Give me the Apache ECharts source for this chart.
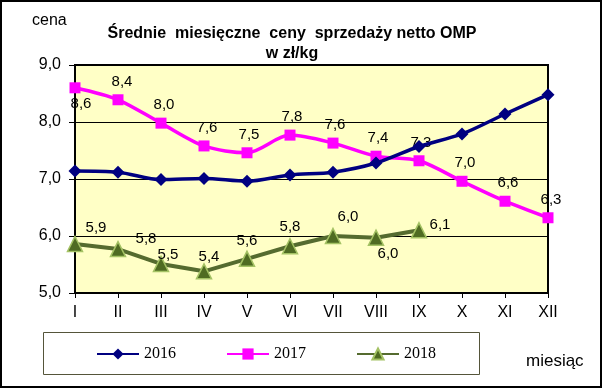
<!DOCTYPE html>
<html>
<head>
<meta charset="utf-8">
<script src="https://cdn.jsdelivr.net/npm/echarts@6/dist/echarts.min.js"></script>
<style>html,body{margin:0;padding:0;background:#fff}#c{width:602px;height:388px}</style>
</head>
<body>
<div id="c"></div>
<script>
const months = ['I','II','III','IV','V','VI','VII','VIII','IX','X','XI','XII'];
const y2016 = [7.14,7.12,6.99,7.01,6.96,7.07,7.12,7.28,7.57,7.79,8.14,8.48];
const y2017 = [8.6,8.39,7.98,7.58,7.46,7.77,7.63,7.40,7.32,6.96,6.61,6.32];
const y2018 = [5.86,5.77,5.51,5.38,5.6,5.82,6.0,5.97,6.1];
const seriesNames = ['2016','2017','2018'];
const yTicks = [5,6,7,8,9];

// label placement (style only)
const off2017 = [[6,16],[4,-18],[3,-18],[3,-18],[2,-18],[2,-18],[2,-18],[2,-18],[2,-18],[3,-18],[3,-18],[3,-18]];
const off2018 = [[21,-16],[28,-10],[7,-9],[5,-14],[0,-18],[0,-19],[15,-19],[12,16],[21,-5]];

const fmt = v => v.toFixed(1).replace('.', ',');
const font = 'Liberation Sans, Arial, sans-serif';

const chart = echarts.init(document.getElementById('c'), null, {renderer:'canvas'});
chart.setOption({
  animation:false,
  backgroundColor:'#fff',
  title:{
    text:'Średnie  miesięczne  ceny  sprzedaży netto OMP\nw zł/kg',
    left:287, top:19, textAlign:'center',
    textStyle:{fontFamily:font, fontWeight:'bold', fontSize:16, lineHeight:20, color:'#000'}
  },
  grid:{left:75, right:54, top:65, bottom:95, show:true, backgroundColor:'#FFFFC6', borderColor:'#000', borderWidth:2},
  legend:{
    data:seriesNames, left:96, top:346, itemWidth:42, itemHeight:14, itemGap:50, padding:0,
    textStyle:{fontFamily:'Liberation Serif, Times New Roman, serif', fontSize:16, color:'#000'}
  },
  xAxis:{
    type:'category', data:months, boundaryGap:false,
    axisLine:{lineStyle:{color:'#000', width:2}},
    axisTick:{show:true, length:5, lineStyle:{color:'#000'}},
    axisLabel:{fontFamily:font, fontSize:16, color:'#000', margin:12},
    splitLine:{show:false}
  },
  yAxis:{
    type:'value', min:yTicks[0], max:yTicks[yTicks.length-1], interval:1,
    axisLine:{show:true, lineStyle:{color:'#000', width:2}},
    axisTick:{show:true, length:6, lineStyle:{color:'#000'}},
    axisLabel:{fontFamily:font, fontSize:16, color:'#000', margin:14, formatter:fmt},
    splitLine:{show:true, lineStyle:{color:'#000', width:1}}
  },
  series:[
    {
      name:seriesNames[0], type:'line', data:y2016, smooth:0.3,
      symbol:'diamond', symbolSize:13, showAllSymbol:true,
      lineStyle:{color:'#000080', width:3.5}, itemStyle:{color:'#000080'},
      label:{show:false}, z:3
    },
    {
      name:seriesNames[1], type:'line', smooth:0.3,
      data:y2017.map((v,i)=>({value:v, label:{offset:off2017[i]}})),
      symbol:'rect', symbolSize:11, showAllSymbol:true,
      lineStyle:{color:'#FF00FF', width:3.5}, itemStyle:{color:'#FF00FF'},
      label:{show:true, position:'inside', formatter:p=>fmt(p.value), fontFamily:font, fontSize:15, color:'#000'},
      z:2
    },
    {
      name:seriesNames[2], type:'line', smooth:false,
      data:y2018.map((v,i)=>({value:v, label:{offset:off2018[i]}})),
      symbol:'triangle', symbolSize:15, showAllSymbol:true,
      lineStyle:{color:'#556B2F', width:4},
      itemStyle:{color:'#4F6B22', borderColor:'#A4C264', borderWidth:1.5},
      label:{show:true, position:'inside', formatter:p=>fmt(p.value), fontFamily:font, fontSize:15, color:'#000'},
      z:2
    }
  ],
  graphic:[
    {type:'rect', shape:{x:1, y:1, width:600, height:386}, style:{fill:null, stroke:'#000', lineWidth:2}, silent:true, z:100},
    {type:'rect', shape:{x:43.5, y:332.5, width:436, height:42}, style:{fill:null, stroke:'#55553A', lineWidth:1}, silent:true},
    {type:'text', left:32, top:13, style:{text:'cena', font:'16px '+font, fill:'#000'}},
    {type:'text', left:526, top:353, style:{text:'miesiąc', font:'17px '+font, fill:'#000'}}
  ]
});
</script>
</body>
</html>
